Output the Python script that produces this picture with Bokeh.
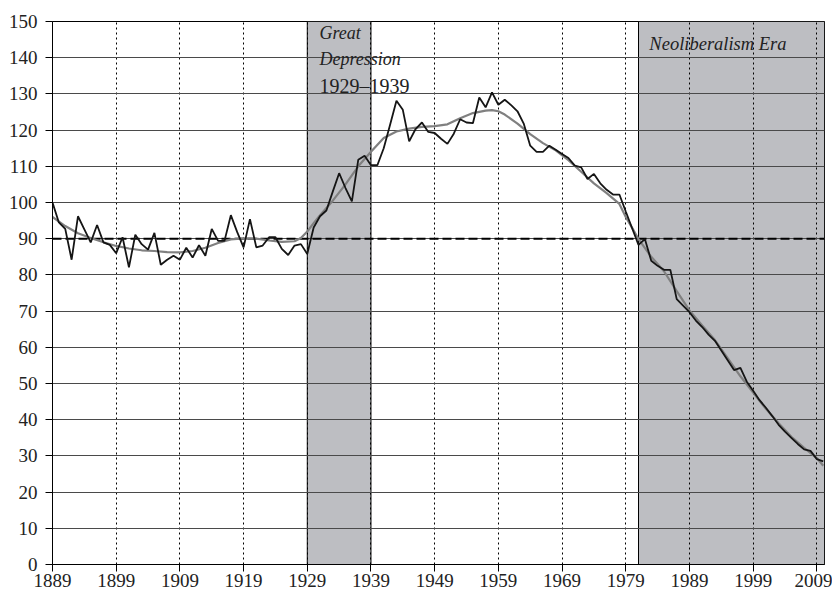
from bokeh.plotting import figure
from bokeh.models import Range1d, FixedTicker, Span, Label, ColumnDataSource
from bokeh.embed import file_html
from bokeh.resources import INLINE

# ---------------- data ----------------
YEARS = list(range(1889, 2011))
VALUES = [
    100.0, 94.5, 92.7, 84.2, 96.2, 92.6, 89.0, 93.8, 89.0, 88.3,   # 1889-1898
    86.0, 90.4, 82.1, 91.1, 88.5, 87.0, 91.6, 82.8, 84.2, 85.3,    # 1899-1908
    84.2, 87.5, 84.8, 88.2, 85.3, 92.7, 89.4, 89.4, 96.5, 91.8,    # 1909-1918
    87.6, 95.4, 87.6, 88.1, 90.4, 90.4, 87.2, 85.5, 88.1, 88.5,    # 1919-1928
    85.8, 93.1, 96.2, 97.8, 103.0, 108.1, 104.0, 100.3, 111.8, 112.9,  # 1929-1938
    110.3, 110.3, 115.0, 121.5, 128.1, 125.6, 116.9, 120.3, 122.1, 119.5,  # 1939-1948
    119.2, 117.6, 116.2, 119.0, 123.0, 122.1, 121.9, 129.0, 126.3, 130.4,  # 1949-1958
    127.0, 128.4, 126.9, 125.2, 121.7, 115.7, 114.0, 114.0, 115.7, 114.6,  # 1959-1968
    113.4, 112.3, 110.2, 109.7, 106.5, 107.9, 105.3, 103.5, 102.2, 102.2,  # 1969-1978
    97.5, 92.9, 88.3, 89.9, 83.9, 82.5, 81.4, 81.4, 73.3, 71.5,    # 1979-1988
    69.7, 67.4, 65.6, 63.5, 61.8, 59.1, 56.4, 53.7, 54.3, 50.5,    # 1989-1998
    48.0, 45.4, 43.3, 41.0, 38.6, 36.7, 35.0, 33.3, 31.8, 31.4,    # 1999-2008
    29.1, 28.5,                                                    # 2009-2010
]

TREND_YEARS = [1889, 1891, 1893, 1895, 1897, 1899, 1901, 1903, 1905, 1907,
               1909, 1911, 1913, 1915, 1917, 1919, 1921, 1923, 1925, 1927,
               1928, 1929, 1930, 1931, 1933, 1935, 1937, 1939, 1941, 1943,
               1945, 1947, 1949, 1951, 1953, 1955, 1957, 1958, 1959, 1960,
               1962, 1964, 1966, 1968, 1970, 1972, 1974, 1976, 1978, 1979,
               1980, 1981, 1983, 1985, 1987, 1989, 1991, 1993, 1995, 1997,
               1999, 2001, 2003, 2005, 2007, 2009, 2010]
TREND_VALUES = [96.0, 93.5, 91.5, 90.2, 89.0, 88.0, 87.3, 86.8, 86.6, 86.3,
                86.2, 86.6, 87.5, 88.8, 89.8, 90.1, 90.0, 89.5, 89.1, 89.3,
                90.2, 92.0, 94.3, 96.5, 100.5, 105.0, 110.0, 114.0, 117.8, 119.6,
                120.4, 120.9, 121.1, 121.6, 123.3, 124.7, 125.4, 125.5, 125.2, 124.3,
                121.8, 118.9, 116.4, 114.4, 111.7, 108.5, 105.3, 102.6, 99.6, 96.0,
                93.0, 89.9, 85.0, 81.0, 75.5, 70.2, 66.0, 62.0, 57.0, 52.0,
                47.5, 43.0, 39.0, 35.3, 32.2, 29.4, 27.3]

X_TICKS = [1889, 1899, 1909, 1919, 1929, 1939, 1949, 1959, 1969, 1979, 1989, 1999, 2009]
Y_TICKS = [0, 10, 20, 30, 40, 50, 60, 70, 80, 90, 100, 110, 120, 130, 140, 150]
X_START, X_END = 1889, 2010.2
Y_MIN, Y_MAX = 0, 150
BASELINE = 90

ERA_START = [1929, 1981]
ERA_END = [1939, X_END]

# ---------------- figure ----------------
p = figure(width=832, height=594, x_range=Range1d(X_START, X_END),
           y_range=Range1d(Y_MIN, Y_MAX), output_backend="svg",
           toolbar_location=None, min_border_left=52, min_border_right=8,
           min_border_top=21, min_border_bottom=30)
p.background_fill_color = "white"
p.outline_line_color = "black"
p.outline_line_width = 1

# shaded eras (drawn beneath grid)
p.quad(left=ERA_START, right=ERA_END, bottom=Y_MIN, top=Y_MAX,
       fill_color="#bdbec2", line_color="black", line_width=1, level="image")

# axes
FONT = "Liberation Serif"
for ax in (p.xaxis[0], p.yaxis[0]):
    ax.axis_line_color = "black"
    ax.major_tick_line_color = "black"
    ax.minor_tick_line_color = None
    ax.major_tick_in = 0
    ax.major_tick_out = 7
    ax.major_label_text_font = FONT
    ax.major_label_text_font_size = "19px"
    ax.major_label_text_color = "#222222"
p.xaxis.ticker = FixedTicker(ticks=X_TICKS)
p.yaxis.ticker = FixedTicker(ticks=Y_TICKS)
p.xaxis.major_label_standoff = 2
p.yaxis.major_label_standoff = 8

# grids
p.xgrid.ticker = FixedTicker(ticks=X_TICKS)
p.xgrid.grid_line_color = "black"
p.xgrid.grid_line_dash = "2 3"
p.xgrid.grid_line_width = 1
p.ygrid.ticker = FixedTicker(ticks=Y_TICKS)
p.ygrid.grid_line_color = "#4a4a4a"
p.ygrid.grid_line_width = 1

# baseline dashed line
p.add_layout(Span(location=BASELINE, dimension="width", line_color="black",
                  line_width=2, line_dash="9 4", level="underlay"))

# series
p.line(TREND_YEARS, TREND_VALUES, line_color="#808080", line_width=2.2)
src = ColumnDataSource(dict(year=YEARS, value=VALUES))
p.line("year", "value", source=src, line_color="#151515", line_width=1.8)

# annotations
p.add_layout(Label(x=1930.9, y=146.8, text="Great", text_font=FONT,
                   text_font_style="italic", text_font_size="18px",
                   text_color="#222222", text_baseline="alphabetic"))
p.add_layout(Label(x=1930.9, y=139.7, text="Depression", text_font=FONT,
                   text_font_style="italic", text_font_size="18px",
                   text_color="#222222", text_baseline="alphabetic"))
p.add_layout(Label(x=1930.9, y=132.3, text="1929\u20131939", text_font=FONT,
                   text_font_size="20px", text_color="#222222",
                   text_baseline="alphabetic"))
p.add_layout(Label(x=1982.7, y=143.7, text="Neoliberalism Era", text_font=FONT,
                   text_font_style="italic", text_font_size="18.5px",
                   text_color="#222222", text_baseline="alphabetic"))

open("out.html", "w").write(file_html(p, INLINE))
